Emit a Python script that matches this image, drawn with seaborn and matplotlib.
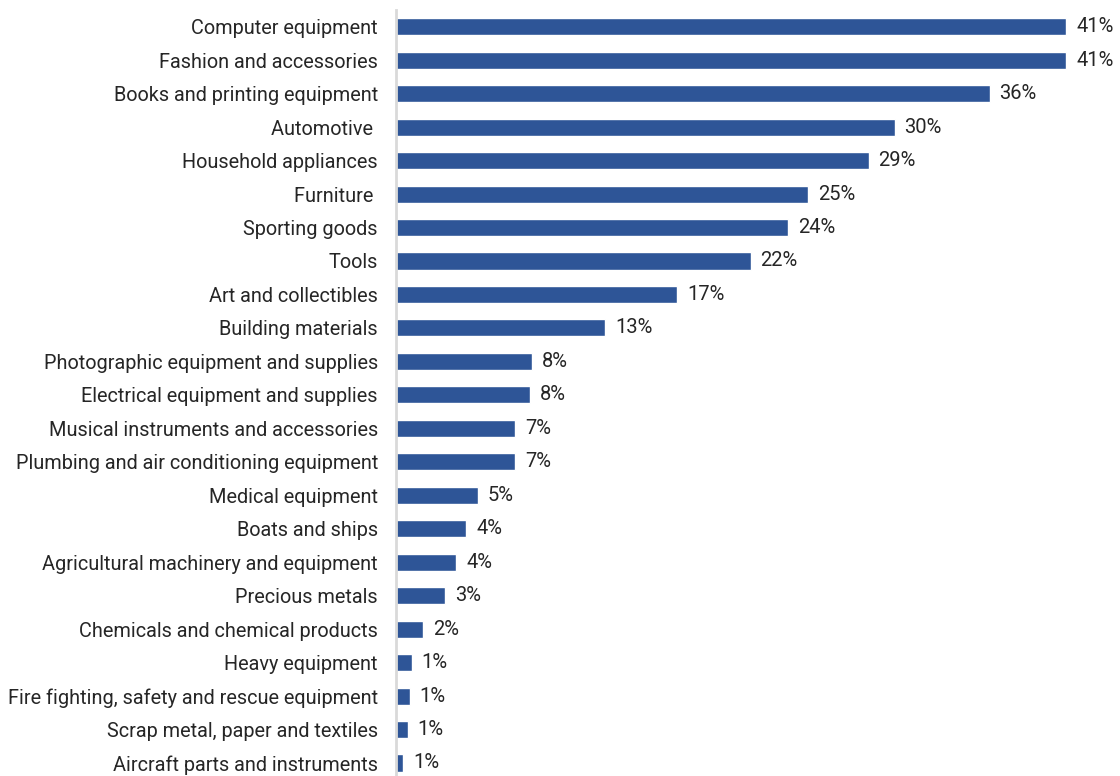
import matplotlib
matplotlib.use("Agg")
import matplotlib.pyplot as plt
import seaborn as sns
import pandas as pd

categories = [
    "Computer equipment", "Fashion and accessories", "Books and printing equipment",
    "Automotive ", "Household appliances", "Furniture ", "Sporting goods", "Tools",
    "Art and collectibles", "Building materials", "Photographic equipment and supplies",
    "Electrical equipment and supplies", "Musical instruments and accessories",
    "Plumbing and air conditioning equipment", "Medical equipment", "Boats and ships",
    "Agricultural machinery and equipment", "Precious metals",
    "Chemicals and chemical products", "Heavy equipment",
    "Fire fighting, safety and rescue equipment", "Scrap metal, paper and textiles",
    "Aircraft parts and instruments",
]
shares = [41.0, 41.0, 36.3, 30.5, 28.9, 25.2, 24.0, 21.7, 17.2, 12.8, 8.3, 8.2,
          7.3, 7.3, 5.0, 4.3, 3.7, 3.0, 1.65, 0.96, 0.84, 0.73, 0.45]
share_labels = ["41%", "41%", "36%", "30%", "29%", "25%", "24%", "22%", "17%",
                "13%", "8%", "8%", "7%", "7%", "5%", "4%", "4%", "3%", "2%",
                "1%", "1%", "1%", "1%"]

df = pd.DataFrame({"category": categories, "share": shares})

sns.set_style("white")
plt.rcParams["font.family"] = ["Roboto", "DejaVu Sans"]

fig = plt.figure(figsize=(11.2, 7.76), dpi=100)
ax = fig.add_axes([396 / 1120, 0.0, 1 - 396 / 1120, 766 / 776])

sns.barplot(data=df, x="share", y="category", color="#2E5597", width=0.51,
            saturation=1, ax=ax)

ax.bar_label(ax.containers[0], labels=share_labels, padding=7,
             fontsize=14.5, color="#262626")

ax.set_xlim(0, (1120 - 396) / 16.35)
ax.set_ylim(22 + 13 / 33.45, -0.5)
ax.set_xlabel("")
ax.set_ylabel("")
ax.set_xticks([])
ax.tick_params(axis="y", length=0, pad=13, labelsize=14.3, labelcolor="#262626")

for side in ["top", "right", "bottom"]:
    ax.spines[side].set_visible(False)
ax.spines["left"].set_color("#d9d9d9")
ax.spines["left"].set_linewidth(2)

fig.savefig("out.png", dpi=100)
